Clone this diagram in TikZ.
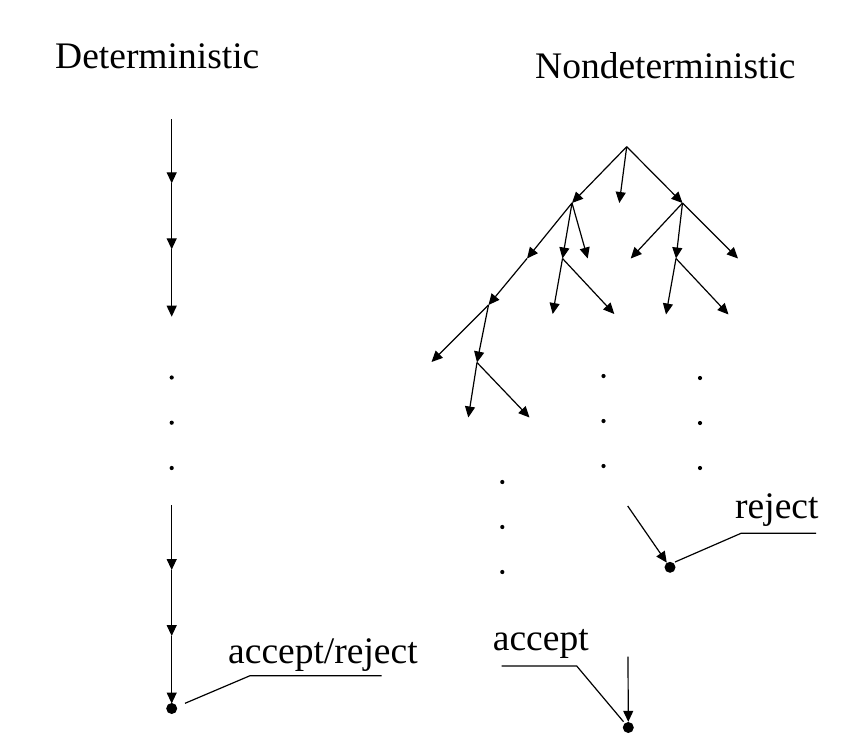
\documentclass[tikz,border=0pt]{standalone}
\usepackage{fontspec}
\setmainfont{Liberation Serif}
\usetikzlibrary{arrows.meta}
\begin{document}
\begin{tikzpicture}[x=1pt,y=-1pt,
  edge/.style={line width=1.2pt,-{Triangle[length=11pt,width=10pt]}},
  lead/.style={line width=1.2pt},
  lbl/.style={font=\fontsize{37.5}{40}\selectfont,inner sep=0pt,anchor=base west},
  smalldot/.style={circle,fill,inner sep=0pt,minimum size=4.2pt},
  bigdot/.style={circle,fill,inner sep=0pt,minimum size=11pt}]
\useasboundingbox (0,0) rectangle (861,753);
% titles
\node[lbl] (tdet) at (55,68.3) {Deterministic};
\node[lbl] (tnon) at (535,78) {Nondeterministic};
% deterministic column
\coordinate (d0) at (171.7,119.3);
\coordinate (d1) at (171.7,183.3);
\coordinate (d2) at (171.7,249.3);
\coordinate (d3) at (171.7,316.7);
\draw[edge] (d0) -- (d1);
\draw[edge] (d1) -- (d2);
\draw[edge] (d2) -- (d3);
\node[smalldot] (dd1) at (171.7,377.5) {};
\node[smalldot] (dd2) at (171.7,422.7) {};
\node[smalldot] (dd3) at (171.7,468) {};
\coordinate (e0) at (171.7,505);
\coordinate (e1) at (171.7,570);
\coordinate (e2) at (171.7,636);
\coordinate (e3) at (171.7,703.5);
\draw[edge] (e0) -- (e1);
\draw[edge] (e1) -- (e2);
\draw[edge] (e2) -- (e3);
\node[bigdot] (dend) at (171.7,708.5) {};
\coordinate (la) at (185,703.3);
\coordinate (lb) at (250,675.7);
\coordinate (lc) at (381.7,675.7);
\draw[lead] (la) -- (lb) -- (lc);
\node[lbl] (tar) at (228,663.3) {accept/reject};
% nondeterministic tree
\coordinate (root) at (626.7,146.7);
\coordinate (L) at (572,203);
\coordinate (M) at (619.3,203);
\coordinate (R) at (682.5,203);
\draw[edge] (root) -- (L);
\draw[edge] (root) -- (M);
\draw[edge] (root) -- (R);
\coordinate (LL) at (527,258.5);
\coordinate (LM) at (562.5,258.5);
\coordinate (LR) at (587.7,258.5);
\draw[edge] (L) -- (LL);
\draw[edge] (L) -- (LM);
\draw[edge] (L) -- (LR);
\coordinate (RL) at (630.7,258.5);
\coordinate (RM) at (676,258.5);
\coordinate (RR) at (738,258.5);
\draw[edge] (R) -- (RL);
\draw[edge] (R) -- (RM);
\draw[edge] (R) -- (RR);
\coordinate (LMa) at (552.7,314);
\coordinate (LMb) at (614.3,314);
\draw[edge] (LM) -- (LMa);
\draw[edge] (LM) -- (LMb);
\coordinate (RMa) at (666,314.5);
\coordinate (RMb) at (728.5,314.5);
\draw[edge] (RM) -- (RMa);
\draw[edge] (RM) -- (RMb);
\coordinate (LLL) at (488.5,305);
\draw[edge] (LL) -- (LLL);
\coordinate (LLLa) at (431.5,362);
\coordinate (LLLM) at (477,362.5);
\draw[edge] (LLL) -- (LLLa);
\draw[edge] (LLL) -- (LLLM);
\coordinate (LLLMa) at (468.3,417.5);
\coordinate (LLLMb) at (529.5,417.5);
\draw[edge] (LLLM) -- (LLLMa);
\draw[edge] (LLLM) -- (LLLMb);
% dots
\node[smalldot] (p1) at (603.5,376) {};
\node[smalldot] (p2) at (603.5,421) {};
\node[smalldot] (p3) at (603.5,466) {};
\node[smalldot] (q1) at (700,378) {};
\node[smalldot] (q2) at (700,423) {};
\node[smalldot] (q3) at (700,468) {};
\node[smalldot] (r1) at (502.3,482) {};
\node[smalldot] (r2) at (502.3,527) {};
\node[smalldot] (r3) at (502.3,572) {};
% reject
\node[bigdot] (rej) at (670,567.3) {};
\coordinate (rs) at (627.7,506);
\draw[edge] (rs) -- (rej);
\coordinate (ra) at (675,562);
\coordinate (rb) at (741,533.3);
\coordinate (rc) at (816,533.3);
\draw[lead] (ra) -- (rb) -- (rc);
\node[lbl] (trej) at (735,518.5) {reject};
% accept
\node[bigdot] (acc) at (628.3,727.5) {};
\coordinate (as) at (628,656.7);
\draw[edge] (as) -- (acc);
\coordinate (aa) at (501.7,666);
\coordinate (ab) at (576.7,666);
\coordinate (ac) at (623.5,721.7);
\draw[lead] (aa) -- (ab) -- (ac);
\node[lbl] (tacc) at (492.7,650.7) {accept};
\end{tikzpicture}
\end{document}
